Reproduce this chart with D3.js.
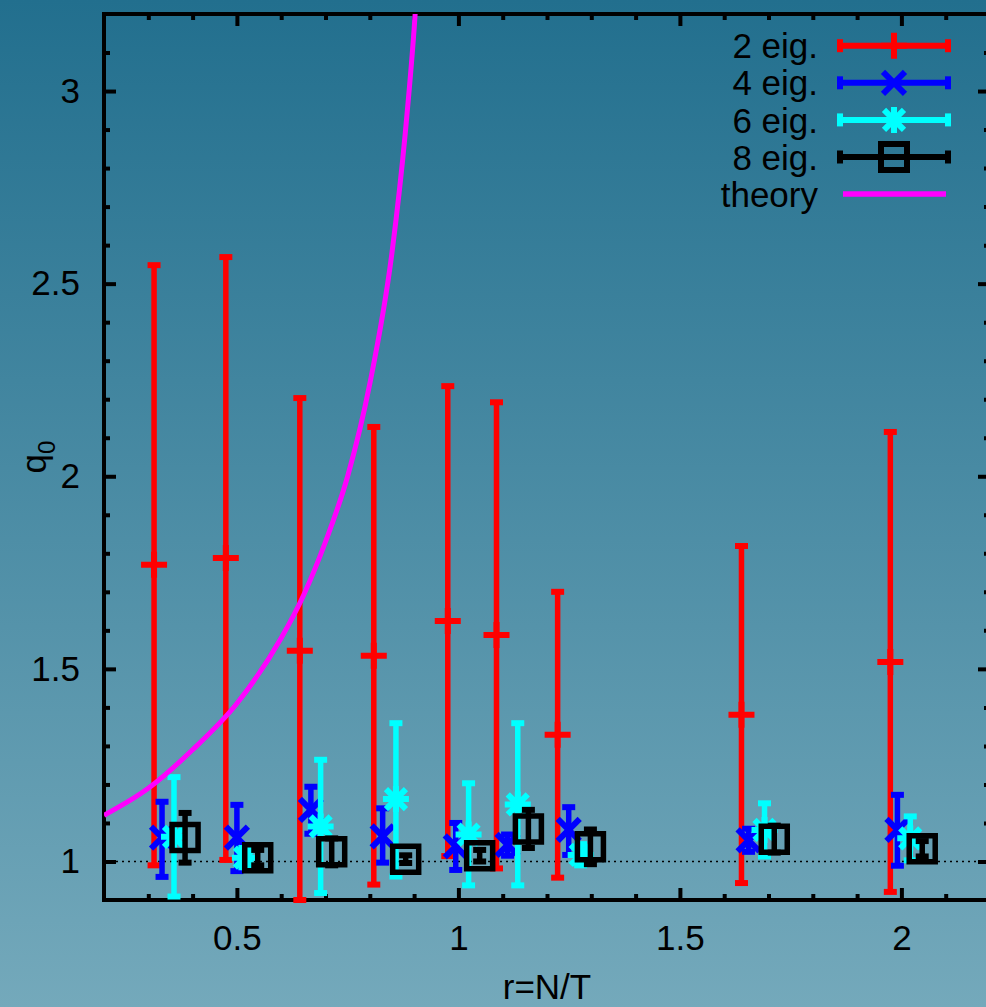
<!DOCTYPE html>
<html>
<head>
<meta charset="utf-8">
<script src="https://cdn.jsdelivr.net/npm/d3@7"></script>
<style>
    html, body { margin: 0; padding: 0; overflow: hidden; }
    svg { display: block; }
    text { font-family: "Liberation Sans", Arial, sans-serif; fill: #000; }
</style>
</head>
<body>
<div id="chart"></div>
<script>
// Series (r = N/T, q0 centre, lower and upper error)
const seriesNames = ["2 eig.", "4 eig.", "6 eig.", "8 eig."];

const r2 = [0.313, 0.475, 0.642, 0.809, 0.976, 1.086, 1.224, 1.639, 1.975];
const q2 = [1.770, 1.788, 1.547, 1.534, 1.624, 1.588, 1.329, 1.381, 1.518];
const q2lo = [0.990, 1.004, 0.900, 0.940, 1.014, 0.982, 0.958, 0.944, 0.921];
const q2hi = [2.548, 2.569, 2.203, 2.128, 2.234, 2.192, 1.700, 1.819, 2.115];

const r4 = [0.331, 0.500, 0.667, 0.829, 0.994, 1.111, 1.249, 1.655, 1.991];
const q4 = [1.062, 1.062, 1.134, 1.065, 1.039, 1.043, 1.082, 1.055, 1.082];
const q4lo = [0.960, 0.975, 1.072, 0.997, 0.978, 1.015, 1.017, 1.025, 0.989];
const q4hi = [1.155, 1.147, 1.194, 1.138, 1.100, 1.070, 1.141, 1.085, 1.173];

const r6 = [0.358, 0.518, 0.689, 0.859, 1.023, 1.134, 1.276, 1.691, 2.020];
const q6 = [1.064, 1.010, 1.091, 1.162, 1.070, 1.148, 1.017, 1.082, 1.060];
const q6lo = [0.909, 0.985, 0.918, 0.961, 0.938, 0.938, 0.990, 1.013, 1.003];
const q6hi = [1.219, 1.035, 1.264, 1.359, 1.203, 1.359, 1.045, 1.151, 1.117];

const r8 = [0.383, 0.547, 0.714, 0.881, 1.048, 1.158, 1.298, 1.713, 2.047];
const q8 = [1.062, 1.010, 1.025, 1.006, 1.015, 1.084, 1.038, 1.058, 1.033];
const q8lo = [0.997, 0.990, 0.990, 0.996, 1.000, 1.035, 0.993, 1.023, 1.013];
const q8hi = [1.126, 1.030, 1.060, 1.016, 1.030, 1.134, 1.083, 1.093, 1.053];

// theory curve, points
const rTheory = [0.20, 0.30, 0.40, 0.50, 0.60, 0.65, 0.70, 0.75, 0.80, 0.85, 0.88, 0.90, 0.91];
const qTheory = [1.12, 1.19, 1.29, 1.41, 1.58, 1.69, 1.83, 2.00, 2.24, 2.58, 2.89, 3.16, 3.33];

const xTicks = [0.5, 1, 1.5, 2];
const yTicks = [1, 1.5, 2, 2.5, 3];
const xLabel = "r=N/T";

class ErrorBarChart {
    constructor(parentElement) {
        let vis = this;
        vis.parentElement = parentElement;
        vis.W = 986;
        vis.H = 1007;
        vis.fontSize = 35;

        vis.series = [
            { name: seriesNames[0], r: r2, q: q2, lo: q2lo, hi: q2hi, color: "#ff0000", symbol: "plus" },
            { name: seriesNames[1], r: r4, q: q4, lo: q4lo, hi: q4hi, color: "#0000ff", symbol: "cross" },
            { name: seriesNames[2], r: r6, q: q6, lo: q6lo, hi: q6hi, color: "#00ffff", symbol: "star" },
            { name: seriesNames[3], r: r8, q: q8, lo: q8lo, hi: q8hi, color: "#000000", symbol: "square" }
        ];

        vis.margin = { left: 104, top: 14, right: 990, bottom: 900 };
        vis.initVis();
    }

    initVis() {
        let vis = this;

        vis.svg = d3.select(`#${vis.parentElement}`)
            .append("svg")
            .attr("width", vis.W)
            .attr("height", vis.H);

        // vertical background gradient over the whole picture
        const defs = vis.svg.append("defs");
        const grad = defs.append("linearGradient")
            .attr("id", "bg")
            .attr("x1", 0).attr("y1", 0).attr("x2", 0).attr("y2", 1);
        grad.append("stop").attr("offset", "0%").attr("stop-color", "#226f8e");
        grad.append("stop").attr("offset", "100%").attr("stop-color", "#74a9bb");

        defs.append("clipPath").attr("id", "plotClip")
            .append("rect")
            .attr("x", vis.margin.left).attr("y", vis.margin.top)
            .attr("width", vis.margin.right - vis.margin.left)
            .attr("height", vis.margin.bottom - vis.margin.top);

        vis.svg.append("rect")
            .attr("width", vis.W).attr("height", vis.H)
            .attr("fill", "url(#bg)");

        vis.x = d3.scaleLinear().domain([0.2, 2.2]).range([vis.margin.left, vis.margin.right]);
        vis.y = d3.scaleLinear().domain([0.9, 3.2]).range([vis.margin.bottom, vis.margin.top]);

        vis.drawAxes();
        vis.drawData();
        vis.drawLegend();
    }

    drawAxes() {
        let vis = this;
        const minorX = d3.range(3, 22).map(d => d / 10).filter(d => !xTicks.some(t => Math.abs(t - d) < 1e-6));
        const minorY = d3.range(10, 32).map(d => d / 10).filter(d => !yTicks.some(t => Math.abs(t - d) < 1e-6));

        const addAxis = (axis, transform) => {
            const g = vis.svg.append("g").attr("transform", transform).call(axis);
            g.select(".domain").remove();
            g.selectAll("line").attr("stroke", "#000").attr("stroke-width", 4);
            g.selectAll("text").style("font-size", vis.fontSize + "px")
                .style("font-family", "Liberation Sans, Arial, sans-serif").attr("fill", "#000");
            return g;
        };

        // bottom
        addAxis(d3.axisBottom(vis.x).tickValues(xTicks).tickSize(-12).tickPadding(25).tickFormat(d3.format("")),
            `translate(0,${vis.margin.bottom})`);
        addAxis(d3.axisBottom(vis.x).tickValues(minorX).tickSize(-6).tickFormat(""),
            `translate(0,${vis.margin.bottom})`);
        // top
        addAxis(d3.axisTop(vis.x).tickValues(xTicks).tickSize(-12).tickFormat(""),
            `translate(0,${vis.margin.top})`);
        addAxis(d3.axisTop(vis.x).tickValues(minorX).tickSize(-6).tickFormat(""),
            `translate(0,${vis.margin.top})`);
        // left
        addAxis(d3.axisLeft(vis.y).tickValues(yTicks).tickSize(-12).tickPadding(24).tickFormat(d3.format("")),
            `translate(${vis.margin.left},0)`);
        addAxis(d3.axisLeft(vis.y).tickValues(minorY).tickSize(-6).tickFormat(""),
            `translate(${vis.margin.left},0)`);
        // right
        addAxis(d3.axisRight(vis.y).tickValues(yTicks).tickSize(-12).tickFormat(""),
            `translate(${vis.margin.right},0)`);
        addAxis(d3.axisRight(vis.y).tickValues(minorY).tickSize(-6).tickFormat(""),
            `translate(${vis.margin.right},0)`);

        // frame
        vis.svg.append("rect")
            .attr("x", vis.margin.left).attr("y", vis.margin.top)
            .attr("width", vis.margin.right - vis.margin.left)
            .attr("height", vis.margin.bottom - vis.margin.top)
            .attr("fill", "none")
            .attr("stroke", "#000")
            .attr("stroke-width", 4);

        // dotted reference line at q0 = 1
        vis.svg.append("line")
            .attr("x1", vis.margin.left).attr("x2", vis.margin.right)
            .attr("y1", vis.y(1)).attr("y2", vis.y(1))
            .attr("stroke", "#000")
            .attr("stroke-width", 1.3)
            .attr("stroke-dasharray", "2,4");

        // axis labels
        const yl = vis.svg.append("text")
            .attr("transform", `translate(46,${(vis.margin.top + vis.margin.bottom) / 2}) rotate(-90)`)
            .attr("text-anchor", "middle")
            .style("font-size", vis.fontSize + "px");
        yl.append("tspan").text("q");
        yl.append("tspan").attr("dy", 9).style("font-size", "24px").text("0");

        vis.svg.append("text")
            .attr("x", (vis.margin.left + vis.margin.right) / 2)
            .attr("y", 999)
            .attr("text-anchor", "middle")
            .style("font-size", vis.fontSize + "px")
            .text(xLabel);
    }

    symbolPath(type) {
        switch (type) {
            case "plus": return "M-13,0H13M0,-13V13";
            case "cross": return "M-11,-11L11,11M-11,11L11,-11";
            case "star": return "M-13,0H13M0,-13V13M-10,-10L10,10M-10,10L10,-10";
            case "square": return "M-13,-13H13V13H-13Z";
        }
    }

    drawData() {
        let vis = this;

        vis.series.forEach(s => {
            const pts = s.r.map((r, i) => ({ r: r, q: s.q[i], lo: s.lo[i], hi: s.hi[i] }));
            const g = vis.svg.append("g").attr("class", "series");

            g.selectAll(".bar").data(pts).enter()
                .append("line")
                .attr("x1", d => vis.x(d.r)).attr("x2", d => vis.x(d.r))
                .attr("y1", d => vis.y(d.lo)).attr("y2", d => vis.y(d.hi))
                .attr("stroke", s.color).attr("stroke-width", 5.5);

            ["lo", "hi"].forEach(k => {
                g.selectAll(".cap-" + k).data(pts).enter()
                    .append("line")
                    .attr("x1", d => vis.x(d.r) - 6.5).attr("x2", d => vis.x(d.r) + 6.5)
                    .attr("y1", d => vis.y(d[k])).attr("y2", d => vis.y(d[k]))
                    .attr("stroke", s.color).attr("stroke-width", 6);
            });

            g.selectAll(".pt").data(pts).enter()
                .append("path")
                .attr("transform", d => `translate(${vis.x(d.r)},${vis.y(d.q)})`)
                .attr("d", vis.symbolPath(s.symbol))
                .attr("fill", "none")
                .attr("stroke", s.color)
                .attr("stroke-width", s.symbol === "square" ? 5.5 : 6);
        });

        // theory curve
        const theory = rTheory.map((r, i) => ({ r: r, q: qTheory[i] }));
        vis.svg.append("path")
            .datum(theory)
            .attr("clip-path", "url(#plotClip)")
            .attr("fill", "none")
            .attr("stroke", "#ff00ff")
            .attr("stroke-width", 5)
            .attr("d", d3.line().x(d => vis.x(d.r)).y(d => vis.y(d.q)).curve(d3.curveMonotoneX));
    }

    drawLegend() {
        let vis = this;
        const x0 = 840, x1 = 948, xm = 894, textX = 818, top = 45.7, step = 37.1;
        const lg = vis.svg.append("g").attr("class", "legend");

        vis.series.forEach((s, i) => {
            const y = top + i * step;
            lg.append("text").attr("x", textX).attr("y", y).attr("dy", "0.36em")
                .attr("text-anchor", "end").style("font-size", vis.fontSize + "px").text(s.name);
            lg.append("line").attr("x1", x0).attr("x2", x1).attr("y1", y).attr("y2", y)
                .attr("stroke", s.color).attr("stroke-width", 6);
            [x0, x1].forEach(xc => {
                lg.append("line").attr("x1", xc).attr("x2", xc).attr("y1", y - 6.5).attr("y2", y + 6.5)
                    .attr("stroke", s.color).attr("stroke-width", 6);
            });
            lg.append("path").attr("transform", `translate(${xm},${y})`)
                .attr("d", vis.symbolPath(s.symbol))
                .attr("fill", "none").attr("stroke", s.color).attr("stroke-width", 6);
        });

        const yT = top + 4 * step;
        lg.append("text").attr("x", textX).attr("y", yT).attr("dy", "0.36em")
            .attr("text-anchor", "end").style("font-size", vis.fontSize + "px").text("theory");
        lg.append("line").attr("x1", 843).attr("x2", 946).attr("y1", yT).attr("y2", yT)
            .attr("stroke", "#ff00ff").attr("stroke-width", 5.5);
    }
}

new ErrorBarChart("chart");
</script>
</body>
</html>
